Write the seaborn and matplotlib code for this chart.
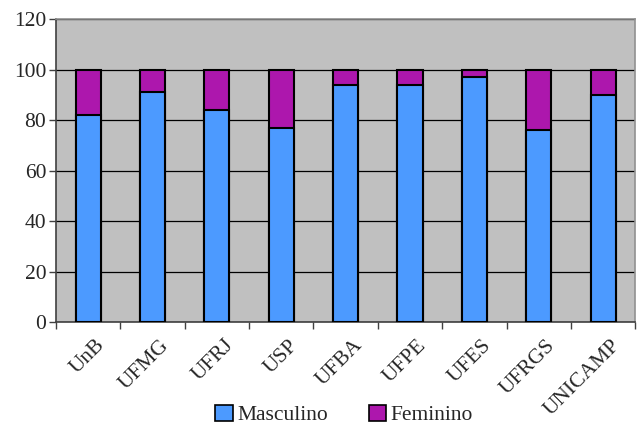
import numpy as np
import pandas as pd
import matplotlib
matplotlib.use('Agg')
import matplotlib.pyplot as plt
import matplotlib.transforms as mtransforms
import seaborn as sns
from matplotlib.patches import Patch
from matplotlib.ticker import FixedLocator, MultipleLocator

# data (percent)
universidades = ['UnB', 'UFMG', 'UFRJ', 'USP', 'UFBA', 'UFPE', 'UFES', 'UFRGS', 'UNICAMP']
masculino = [82, 91, 84, 77, 94, 94, 97, 76, 90]
feminino = [18, 9, 16, 23, 6, 6, 3, 24, 10]

cor_masc = '#4C9AFF'
cor_fem = '#AD17AD'

sns.set_style('white')
plt.rcParams['font.family'] = ['Liberation Serif', 'DejaVu Serif']

df = pd.DataFrame({'univ': universidades, 'masc': masculino, 'fem': feminino})
df['total'] = df['masc'] + df['fem']

fig = plt.figure(figsize=(6.43, 4.26), dpi=100)
ax = fig.add_axes([0.087, 0.244, 0.901, 0.711])
ax.set_facecolor('#C0C0C0')

# stacked bars: draw total (feminino on top) then masculino over it
sns.barplot(data=df, x='univ', y='total', color=cor_fem, saturation=1,
            width=0.39, edgecolor='black', linewidth=1.5, ax=ax, zorder=3)
sns.barplot(data=df, x='univ', y='masc', color=cor_masc, saturation=1,
            width=0.39, edgecolor='black', linewidth=1.5, ax=ax, zorder=4)

ax.set_ylim(0, 120)
ax.set_xlim(-0.5, len(universidades) - 0.5)
ax.yaxis.set_major_locator(MultipleLocator(20))
ax.grid(axis='y', color='black', linewidth=0.9, zorder=1)
ax.set_axisbelow(True)

# x tick marks between categories, labels at centres
ax.xaxis.set_minor_locator(FixedLocator(np.arange(-0.5, len(universidades), 1)))
ax.tick_params(axis='x', which='major', bottom=True, length=0, pad=10)
ax.tick_params(axis='x', which='minor', bottom=True, length=5, width=1,
               color='#404040', direction='out')
ax.tick_params(axis='y', left=True, length=5, width=1, color='#404040',
               direction='out', pad=2)
ax.tick_params(labelsize=15.5)
offset = mtransforms.ScaledTranslation(0.07, 0, fig.dpi_scale_trans)
for lab in ax.get_xticklabels():
    lab.set_rotation(45)
    lab.set_ha('right')
    lab.set_va('top')
    lab.set_rotation_mode('anchor')
    lab.set_transform(lab.get_transform() + offset)

ax.set_xlabel('')
ax.set_ylabel('')

for s in ['left', 'bottom']:
    ax.spines[s].set_color('#404040')
    ax.spines[s].set_linewidth(1.2)
for s in ['top', 'right']:
    ax.spines[s].set_color('#909090')
    ax.spines[s].set_linewidth(1.2)

handles = [Patch(facecolor=cor_masc, edgecolor='black', linewidth=1.2, label='Masculino'),
           Patch(facecolor=cor_fem, edgecolor='black', linewidth=1.2, label='Feminino')]
fig.legend(handles=handles, loc='center', bbox_to_anchor=(0.535, 0.026), ncol=2,
           frameon=False, fontsize=15.5, handlelength=0.8, handleheight=0.8,
           handletextpad=0.2, columnspacing=1.9, borderaxespad=0)

fig.savefig('out.png', dpi=100)
